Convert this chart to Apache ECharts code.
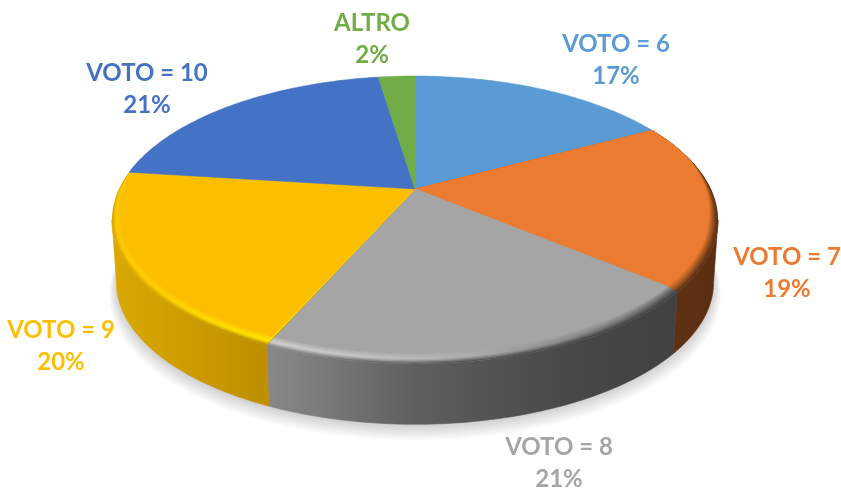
<!DOCTYPE html>
<html>
<head>
<meta charset="utf-8">
<style>html,body{margin:0;padding:0;background:#fff}#c{width:841px;height:488px}</style>
<script src="https://cdn.jsdelivr.net/npm/echarts@6/dist/echarts.min.js"></script>
</head>
<body>
<div id="c"></div>
<script>
// ---- data ----
const categories = ['VOTO = 6', 'VOTO = 7', 'VOTO = 8', 'VOTO = 9', 'VOTO = 10', 'ALTRO'];
const shares = [17.2, 19.0, 20.4, 20.4, 20.6, 2.4];
const percentLabels = ['17%', '19%', '21%', '20%', '21%', '2%'];

// ---- style ----
const faceColors = ['#5b9bd5', '#ea7b30', '#a5a5a5', '#fcbf00', '#4472c4', '#70ad47'];
const sideStops = [null,
  [[672, '#603213'], [718, '#5a2d10']],
  [[268, '#8a8a8a'], [415, '#5f5f5f'], [560, '#494949'], [672, '#414141']],
  [[112, '#dcaa00'], [268, '#bd8d00']],
  null, null];
const rimStops = [null,
  [[672, '#a85c24'], [718, '#7a3f16']],
  [[268, '#d2d2d2'], [350, '#c8c8c8'], [450, '#b6b6b6'], [550, '#909090'], [672, '#5e5e5e']],
  [[112, '#ffc800'], [180, '#ffd500'], [268, '#ffea00']],
  null, null];
const labelCenters = [[616, 60], [787, 273], [559, 463], [61, 346], [147, 89], [372, 39]];

const geo = { cx: 415, cy: 189, rx: 296, ry: 137.3, k: 0.215, depth: 63, baseScale: 0.985 };
const TAU = Math.PI * 2;
const total = shares.reduce((a, b) => a + b, 0);

function project(theta, sx, sy, dy, scale) {
  const u = Math.sin(theta) * sx, v = Math.cos(theta) * sy, w = 1 + geo.k * v;
  return [geo.cx + geo.rx * scale * u / w, geo.cy + dy - geo.ry * scale * v / w];
}
function arc(a0, a1, fn) {
  const n = Math.max(2, Math.ceil((a1 - a0) / (TAU / 360)));
  const out = [];
  for (let i = 0; i <= n; i++) out.push(fn(a0 + (a1 - a0) * i / n));
  return out;
}
function hex(c) { return [1, 3, 5].map(i => parseInt(c.substr(i, 2), 16)); }
function mix(a, b, t) {
  const A = hex(a), B = hex(b);
  return '#' + A.map((x, i) => Math.round(x + (B[i] - x) * t).toString(16).padStart(2, '0')).join('');
}
function sample(stops, x) {
  if (x <= stops[0][0]) return stops[0][1];
  for (let i = 1; i < stops.length; i++) {
    if (x <= stops[i][0]) return mix(stops[i - 1][1], stops[i][1], (x - stops[i - 1][0]) / (stops[i][0] - stops[i - 1][0]));
  }
  return stops[stops.length - 1][1];
}
function xGradient(x0, x1, colorAt) {
  const colorStops = [];
  for (let i = 0; i <= 12; i++) colorStops.push({ offset: i / 12, color: colorAt(x0 + (x1 - x0) * i / 12) });
  return { type: 'linear', x: x0, y: 0, x2: x1, y2: 0, global: true, colorStops };
}
const sideArcLimit = Math.acos(-geo.k);

function renderShadow() {
  const children = [];
  for (let s = 7; s >= 0; s--) {
    children.push({
      type: 'polygon', silent: true,
      shape: { points: arc(0, TAU, a => project(a, 1, 1, geo.depth + 1 + s * 1.5, geo.baseScale * (1 + s * 0.0035))) },
      style: { fill: 'rgba(0,0,0,0.022)' }
    });
  }
  return { type: 'group', children };
}

function renderSlice(params, api) {
  const i = params.dataIndex;
  const start = shares.slice(0, i).reduce((a, b) => a + b, 0) / total * TAU;
  const end = start + api.value(1) / total * TAU;
  const children = [];
  const apex = [geo.cx, geo.cy];
  const face = faceColors[i];

  if (sideStops[i]) {
    const a0 = Math.max(start, sideArcLimit), a1 = Math.min(end, TAU - sideArcLimit);
    const top = arc(a0, a1, a => project(a, 1, 1, 0, 1));
    const bottom = arc(a0, a1, a => project(a, 1, 1, geo.depth, geo.baseScale)).reverse();
    const grad = xGradient(100, 730, x => sample(sideStops[i], x));
    children.push({ type: 'polygon', silent: true, shape: { points: top.concat(bottom) },
      style: { fill: grad, stroke: grad, lineWidth: 0.6 } });
    const steps = 9;
    for (let s = 0; s < steps; s++) {
      const t = s / steps;
      const colorAt = x => {
        const hi = sample(rimStops[i], x), sd = sample(sideStops[i], x);
        return t < 0.4 ? mix(sd, hi, t / 0.4) : mix(hi, face, (t - 0.4) / 0.6);
      };
      const pts = arc(start, end, a => {
        const taper = Math.max(0, Math.min(1, (0.3 - Math.cos(a)) / 0.5));
        return project(a, 1 - t * 0.028 * taper, 1 - t * 0.05 * taper, 0, 1);
      });
      children.push({ type: 'polygon', silent: true, shape: { points: [apex].concat(pts) },
        style: { fill: xGradient(100, 730, colorAt) } });
    }
  }
  const insetFace = arc(start, end, a => {
    const taper = sideStops[i] ? Math.max(0, Math.min(1, (0.3 - Math.cos(a)) / 0.5)) : 0;
    return project(a, 1 - 0.028 * taper, 1 - 0.05 * taper, 0, 1);
  });
  children.push({ type: 'polygon', silent: true, shape: { points: [apex].concat(insetFace) },
    style: { fill: face, stroke: face, lineWidth: 0.5 } });
  return { type: 'group', children };
}

function renderLabel(params) {
  const i = params.dataIndex;
  return {
    type: 'text', silent: true,
    x: labelCenters[i][0], y: labelCenters[i][1],
    style: {
      text: categories[i] + '\n' + percentLabels[i],
      fill: faceColors[i],
      font: 'bold 24px Lato',
      lineHeight: 32,
      align: 'center', verticalAlign: 'middle'
    }
  };
}

const chart = echarts.init(document.getElementById('c'), null, { renderer: 'canvas' });
chart.setOption({
  animation: false,
  backgroundColor: '#ffffff',
  series: [
    { type: 'custom', coordinateSystem: 'none', data: [[total]], renderItem: renderShadow, z: 1 },
    { type: 'custom', coordinateSystem: 'none', data: categories.map((c, i) => [c, shares[i]]), renderItem: renderSlice, z: 2 },
    { type: 'custom', coordinateSystem: 'none', data: categories.map((c, i) => [c, shares[i]]), renderItem: renderLabel, z: 3 }
  ]
});
</script>
</body>
</html>
